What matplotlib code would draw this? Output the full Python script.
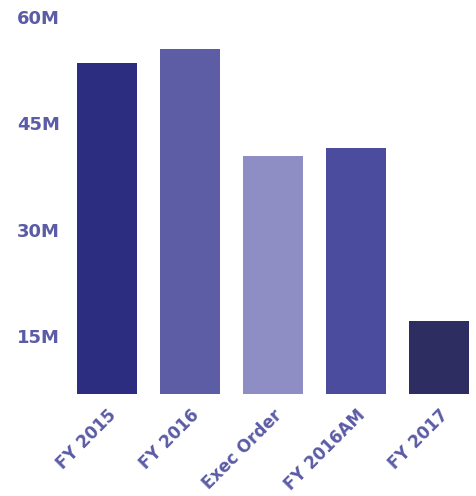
import matplotlib.pyplot as plt

categories = ['FY 2015', 'FY 2016', 'Exec Order', 'FY 2016AM', 'FY 2017']
values = [53.5, 55.5, 40.4, 41.5, 17.1]  # millions
colors = ['#2c2c80', '#5d5da6', '#8e8ec4', '#4c4c9f', '#2e2d62']
yticks = [15, 30, 45, 60]
ytick_labels = ['15M', '30M', '45M', '60M']

label_color = '#5b5ba6'
plt.rcParams['font.family'] = ['DejaVu Sans']

fig = plt.figure(figsize=(4.76, 4.96), dpi=100)
ax = fig.add_axes([0.137, 102 / 496, 0.8544, 394 / 496])

x = list(range(len(categories)))
ax.bar(x, values, width=0.72, color=colors)

ax.set_xlim(-0.5, 4.4)
ax.set_ylim(6.83, 62.35)

ax.set_yticks(yticks)
ax.set_yticklabels(ytick_labels, fontsize=13, fontweight='bold', color=label_color)
ax.set_xticks(x)
ax.set_xticklabels(categories, rotation=45, ha='right', rotation_mode='anchor',
                   fontsize=12.2, fontweight='bold', color=label_color)

ax.tick_params(axis='both', length=0)
ax.tick_params(axis='y', pad=4)
ax.tick_params(axis='x', pad=9)
for s in ax.spines.values():
    s.set_visible(False)

fig.savefig('out.png', dpi=100)
